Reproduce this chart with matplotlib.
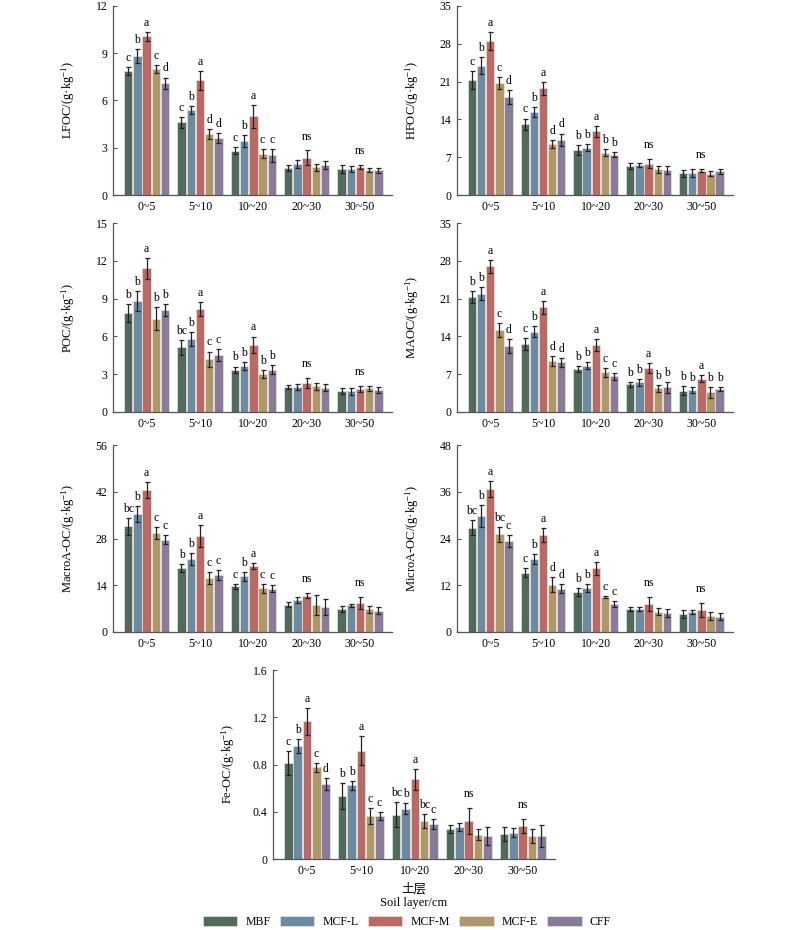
import matplotlib
matplotlib.use('Agg')
import matplotlib.pyplot as plt
import numpy as np
from matplotlib.patches import Patch
from matplotlib.ticker import FuncFormatter

plt.rcParams['font.family'] = ['Liberation Serif', 'Noto Sans CJK SC', 'DejaVu Sans']
plt.rcParams['mathtext.fontset'] = 'custom'
plt.rcParams['mathtext.rm'] = 'Liberation Serif'
plt.rcParams['mathtext.it'] = 'Liberation Serif:italic'

layers = ['0~5', '5~10', '10~20', '20~30', '30~50']
treatments = ['MBF', 'MCF-L', 'MCF-M', 'MCF-E', 'CFF']
colors = ['#506b5c', '#6c8ba0', '#b96a64', '#b09768', '#8a7b98']

# rows = soil layers, columns = treatments
lfoc_mean = [[7.88, 8.83, 10.08, 7.99, 7.08],
             [4.62, 5.38, 7.29, 3.86, 3.62],
             [2.82, 3.43, 5.00, 2.63, 2.52],
             [1.72, 1.99, 2.37, 1.76, 1.90],
             [1.63, 1.65, 1.78, 1.61, 1.57]]
lfoc_err = [[0.25, 0.42, 0.28, 0.25, 0.38],
            [0.34, 0.25, 0.60, 0.30, 0.32],
            [0.20, 0.36, 0.74, 0.27, 0.40],
            [0.17, 0.25, 0.47, 0.21, 0.28],
            [0.25, 0.19, 0.15, 0.13, 0.17]]
lfoc_letters = [['c', 'b', 'a', 'c', 'd'], ['c', 'b', 'a', 'd', 'd'],
                ['c', 'b', 'a', 'c', 'c'], 'ns', 'ns']

hfoc_mean = [[21.27, 23.93, 28.57, 20.66, 18.18],
             [13.11, 15.40, 19.73, 9.52, 10.27],
             [8.41, 8.78, 11.81, 7.85, 7.48],
             [5.38, 5.57, 5.81, 4.76, 4.64],
             [4.02, 4.08, 4.51, 3.96, 4.39]]
hfoc_err = [[1.73, 1.55, 1.67, 1.11, 1.24],
            [1.05, 0.93, 1.24, 0.74, 1.11],
            [0.93, 0.62, 0.99, 0.62, 0.50],
            [0.62, 0.43, 0.87, 0.62, 0.68],
            [0.68, 0.68, 0.31, 0.50, 0.43]]
hfoc_letters = [['c', 'b', 'a', 'c', 'd'], ['c', 'b', 'a', 'd', 'd'],
                ['b', 'b', 'a', 'b', 'b'], 'ns', 'ns']

poc_mean = [[7.85, 8.80, 11.40, 7.42, 8.11],
            [5.14, 5.80, 8.16, 4.19, 4.53],
            [3.37, 3.66, 5.33, 3.02, 3.37],
            [1.99, 2.01, 2.31, 2.04, 1.93],
            [1.67, 1.64, 1.83, 1.88, 1.75]]
poc_err = [[0.69, 0.80, 0.85, 0.90, 0.48],
           [0.58, 0.53, 0.58, 0.61, 0.48],
           [0.24, 0.29, 0.66, 0.32, 0.37],
           [0.13, 0.24, 0.40, 0.26, 0.29],
           [0.21, 0.26, 0.21, 0.19, 0.26]]
poc_letters = [['b', 'b', 'a', 'b', 'b'], ['bc', 'b', 'a', 'c', 'c'],
               ['b', 'b', 'a', 'b', 'b'], 'ns', 'ns']

maoc_mean = [[21.27, 21.89, 26.96, 15.21, 12.18],
             [12.62, 14.90, 19.36, 9.52, 9.21],
             [7.92, 8.60, 12.43, 7.36, 6.62],
             [5.13, 5.50, 8.10, 4.39, 4.58],
             [3.96, 4.08, 6.18, 3.65, 4.27]]
maoc_err = [[1.11, 1.24, 1.24, 1.30, 1.30],
            [1.11, 1.05, 1.24, 0.93, 0.80],
            [0.56, 0.68, 1.11, 0.87, 0.62],
            [0.43, 0.68, 0.93, 0.62, 0.99],
            [0.80, 0.49, 0.68, 0.99, 0.31]]
maoc_letters = [['b', 'b', 'a', 'c', 'd'], ['c', 'b', 'a', 'd', 'd'],
                ['b', 'b', 'a', 'c', 'c'], ['b', 'b', 'a', 'b', 'b'],
                ['b', 'b', 'a', 'b', 'b']]

macro_mean = [[31.67, 35.36, 42.53, 29.58, 27.69],
              [19.12, 21.81, 28.78, 16.14, 17.03],
              [13.65, 16.63, 19.72, 13.05, 12.95],
              [8.17, 9.66, 10.86, 7.97, 7.57],
              [6.97, 7.97, 8.67, 6.77, 6.37]]
macro_err = [[2.49, 2.49, 2.49, 1.79, 1.39],
             [1.10, 1.79, 3.19, 1.79, 1.39],
             [0.80, 1.39, 0.90, 1.29, 1.10],
             [0.70, 0.90, 0.80, 2.99, 2.39],
             [0.90, 0.50, 1.79, 1.00, 1.10]]
macro_letters = [['bc', 'b', 'a', 'c', 'c'], ['b', 'b', 'a', 'c', 'c'],
                 ['c', 'b', 'a', 'c', 'c'], 'ns', 'ns']

micro_mean = [[26.76, 29.74, 36.62, 25.06, 23.36],
              [15.21, 18.69, 24.89, 12.15, 11.13],
              [10.28, 11.30, 16.31, 9.00, 7.22],
              [5.86, 5.95, 7.22, 5.18, 4.93],
              [4.59, 5.01, 5.69, 4.08, 3.91]]
micro_err = [[1.87, 2.80, 2.04, 1.95, 1.44],
             [1.19, 1.27, 1.70, 1.87, 1.10],
             [1.02, 0.93, 1.70, 0.34, 0.85],
             [0.51, 0.59, 1.87, 0.93, 1.02],
             [1.02, 0.51, 1.87, 0.93, 0.93]]
micro_letters = [['bc', 'b', 'a', 'bc', 'c'], ['c', 'b', 'a', 'd', 'd'],
                 ['b', 'b', 'a', 'c', 'c'], 'ns', 'ns']

feoc_mean = [[0.815, 0.957, 1.165, 0.776, 0.635],
             [0.536, 0.624, 0.917, 0.364, 0.364],
             [0.375, 0.426, 0.674, 0.324, 0.296],
             [0.254, 0.271, 0.324, 0.206, 0.195],
             [0.212, 0.223, 0.279, 0.195, 0.195]]
feoc_err = [[0.100, 0.056, 0.116, 0.040, 0.048],
            [0.110, 0.040, 0.124, 0.070, 0.037],
            [0.104, 0.045, 0.090, 0.060, 0.040],
            [0.037, 0.031, 0.110, 0.045, 0.079],
            [0.062, 0.037, 0.062, 0.056, 0.090]]
feoc_letters = [['c', 'b', 'a', 'c', 'd'], ['b', 'b', 'a', 'c', 'c'],
                ['bc', 'b', 'a', 'bc', 'c'], 'ns', 'ns']

panel_names = ['LFOC', 'HFOC', 'POC', 'MAOC', 'MacroA-OC', 'MicroA-OC', 'Fe-OC']
panel_means = [lfoc_mean, hfoc_mean, poc_mean, maoc_mean, macro_mean, micro_mean, feoc_mean]
panel_errs = [lfoc_err, hfoc_err, poc_err, maoc_err, macro_err, micro_err, feoc_err]
panel_letters = [lfoc_letters, hfoc_letters, poc_letters, maoc_letters,
                 macro_letters, micro_letters, feoc_letters]
panel_yticks = [[0, 3, 6, 9, 12], [0, 7, 14, 21, 28, 35], [0, 3, 6, 9, 12, 15],
                [0, 7, 14, 21, 28, 35], [0, 14, 28, 42, 56], [0, 12, 24, 36, 48],
                [0, 0.4, 0.8, 1.2, 1.6]]

W, H = 800, 930
fig = plt.figure(figsize=(W / 100, H / 100), dpi=100)

# axes boxes in pixels: left, top, right, bottom
boxes = [(113, 6, 392, 195), (457, 6, 733, 195),
         (113, 223, 392, 412), (457, 223, 733, 412),
         (113, 445, 392, 632), (457, 445, 733, 632),
         (273, 670, 555, 859)]

FS = 8.5
AXC = '#555555'
pitch = 0.173
bw = 0.158
x = np.arange(len(layers))

for k, name in enumerate(panel_names):
    l, t, r, b = boxes[k]
    ax = fig.add_axes([l / W, 1 - b / H, (r - l) / W, (b - t) / H])
    means = np.array(panel_means[k])
    errs = np.array(panel_errs[k])
    letters = panel_letters[k]
    ymax = panel_yticks[k][-1]
    for j, tr in enumerate(treatments):
        pos = x + (j - 2) * pitch
        ax.bar(pos, means[:, j], width=bw, color=colors[j], edgecolor='#e8e4e4',
               linewidth=0.5, zorder=2)
        ax.errorbar(pos, means[:, j], yerr=errs[:, j], fmt='none', ecolor='#222222',
                    elinewidth=0.9, capsize=1.8, capthick=0.9, zorder=3)
    for i in range(len(layers)):
        tops = means[i] + errs[i]
        if letters[i] == 'ns':
            ax.annotate('ns', (x[i], tops.max()), xytext=(0, 5.5), textcoords='offset points',
                        ha='center', va='bottom', fontsize=FS)
        else:
            for j in range(len(treatments)):
                ax.annotate(letters[i][j], (x[i] + (j - 2) * pitch, tops[j]), xytext=(0, 2.2),
                            textcoords='offset points', ha='center', va='bottom', fontsize=FS)
    ax.set_xlim(-0.63, 4.6)
    ax.set_ylim(0, ymax)
    ax.set_yticks(panel_yticks[k])
    ax.yaxis.set_major_formatter(FuncFormatter(lambda v, p: f'{v:g}'))
    ax.set_xticks(x)
    ax.set_xticklabels(layers)
    ax.tick_params(axis='both', labelsize=FS, length=3, width=0.8, direction='in',
                   color=AXC, pad=4)
    for s in ['top', 'right']:
        ax.spines[s].set_visible(False)
    for s in ['left', 'bottom']:
        ax.spines[s].set_linewidth(0.9)
        ax.spines[s].set_color(AXC)
    ax.set_ylabel(name + '/(g·kg$^{-1}$)', fontsize=9)
    ax.yaxis.set_label_coords(-36 / (r - l), 0.5)

fig.text(414 / W, 1 - 889 / H, '土层', ha='center', va='center', fontsize=9,
         family=['Noto Sans CJK SC', 'DejaVu Sans'])
fig.text(414 / W, 1 - 903 / H, 'Soil layer/cm', ha='center', va='center', fontsize=9)

handles = [Patch(facecolor=c, edgecolor='#e8e4e4', linewidth=0.5) for c in colors]
fig.legend(handles, treatments, loc='center', bbox_to_anchor=(407 / W, 1 - 922 / H),
           ncol=5, frameon=False, fontsize=FS, handlelength=2.9, handleheight=0.9,
           handletextpad=0.7, columnspacing=0.8, borderpad=0.1)

fig.savefig('out.png', dpi=100)
